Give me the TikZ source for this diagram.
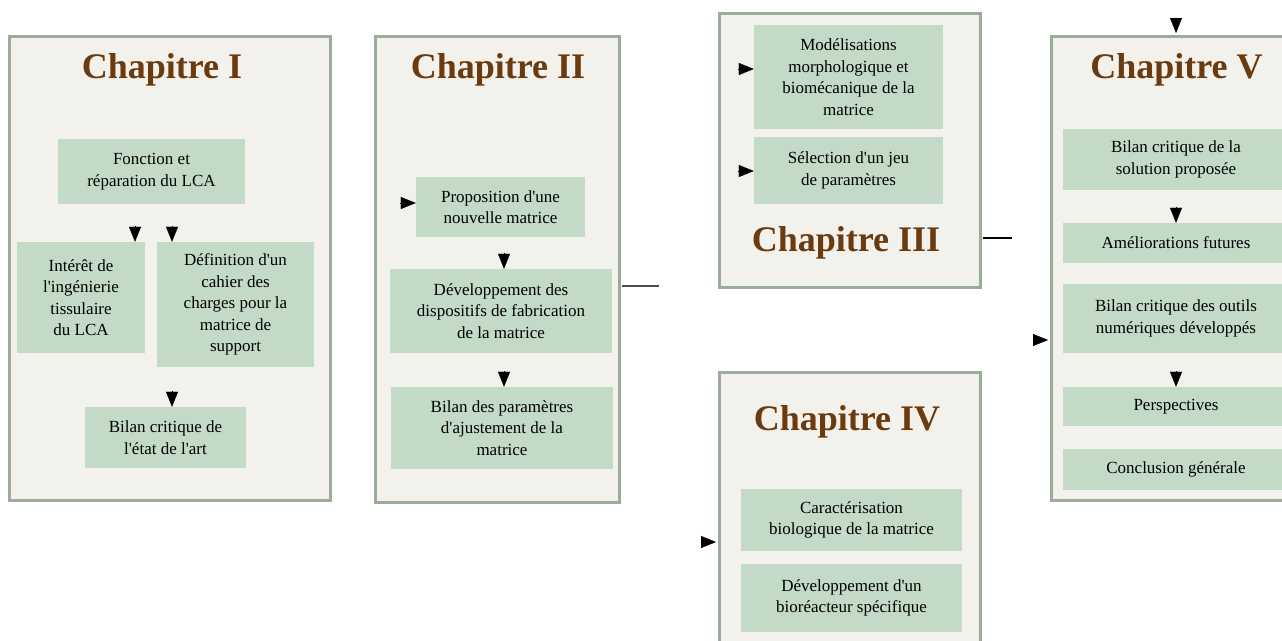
\documentclass[tikz,border=0pt]{standalone}
\usepackage{fontspec}
\setmainfont{Liberation Serif}
\usetikzlibrary{arrows.meta,calc}
\definecolor{framefill}{HTML}{F2F1EC}
\definecolor{framedraw}{HTML}{9BAC9C}
\definecolor{boxgreen}{HTML}{C3DAC7}
\definecolor{titlebrown}{HTML}{6B3A0F}
\newcommand{\ap}{\textquotesingle}
\begin{document}
\begin{tikzpicture}[x=1pt,y=-1pt,
  frame/.style={draw=framedraw, fill=framefill, line width=3pt, inner sep=0pt},
  box/.style={fill=boxgreen, draw=none, inner sep=0pt, align=center,
    font=\fontsize{17}{21.5}\selectfont},
  chtitle/.style={text=titlebrown, font=\fontsize{36}{40}\selectfont\bfseries, inner sep=0pt},
  tip/.style={-{Triangle[length=15pt,width=12pt]}, line width=0.3pt, black},
  stub/.style={line width=1.5pt, draw=black!70}]
\useasboundingbox (0,0) rectangle (1282,640);
\fill[white] (0,0) rectangle (1282,640);
\clip (0,0) rectangle (1282,640);

% Chapitre I
\node[frame, minimum width=321pt, minimum height=464pt] (ch1) at (169.5,268) {};
\node[chtitle] (t1) at (162,70) {Chapitre I};
\node[box, minimum width=187pt, minimum height=65pt] (f1) at (151.5,171.5) {Fonction et\\réparation du LCA};
\node[box, minimum width=128pt, minimum height=111pt] (f2) at (81,297.5) {Intérêt de\\l\ap ingénierie\\tissulaire\\du LCA};
\node[box, minimum width=157pt, minimum height=125pt] (f3) at (235.5,304.5) {Définition d\ap un\\cahier des\\charges pour la\\matrice de\\support};
\node[box, minimum width=161pt, minimum height=61pt] (f4) at (165.5,437.5) {Bilan critique de\\l\ap état de l\ap art};

% Chapitre II
\node[frame, minimum width=244pt, minimum height=466pt] (ch2) at (497,269) {};
\node[chtitle] (t2) at (498,70) {Chapitre II};
\node[box, minimum width=169pt, minimum height=60pt] (p1) at (500.5,207) {Proposition d\ap une\\nouvelle matrice};
\node[box, minimum width=222pt, minimum height=84pt] (p2) at (501,311) {Développement des\\dispositifs de fabrication\\de la matrice};
\node[box, minimum width=222pt, minimum height=82pt] (p3) at (502,428) {Bilan des paramètres\\d\ap ajustement de la\\matrice};

% Chapitre III
\node[frame, minimum width=261pt, minimum height=274pt] (ch3) at (849.5,150) {};
\node[box, minimum width=189pt, minimum height=104pt] (m1) at (848.5,77) {Modélisations\\morphologique et\\biomécanique de la\\matrice};
\node[box, minimum width=189pt, minimum height=67pt] (m2) at (848.5,170.5) {Sélection d\ap un jeu\\de paramètres};
\node[chtitle] (t3) at (846,243) {Chapitre III};

% Chapitre IV
\node[frame, minimum width=261pt, minimum height=288pt] (ch4) at (849.5,516) {};
\node[chtitle] (t4) at (847,422) {Chapitre IV};
\node[box, minimum width=221pt, minimum height=62pt] (c1) at (851.5,520) {Caractérisation\\biologique de la matrice};
\node[box, minimum width=221pt, minimum height=68pt] (c2) at (851.5,598) {Développement d\ap un\\bioréacteur spécifique};

% Chapitre V
\node[frame, minimum width=250pt, minimum height=464pt] (ch5) at (1176,268) {};
\node[chtitle] (t5) at (1176.5,70) {Chapitre V};
\node[box, minimum width=226pt, minimum height=61pt] (v1) at (1176,159.5) {Bilan critique de la\\solution proposée};
\node[box, minimum width=226pt, minimum height=40pt] (v2) at (1176,243) {Améliorations futures};
\node[box, minimum width=226pt, minimum height=69pt] (v3) at (1176,318.5) {Bilan critique des outils\\numériques développés};
\node[box, minimum width=226pt, minimum height=39pt] (v4) at (1176,406.5) {Perspectives};
\node[box, minimum width=226pt, minimum height=41pt] (v5) at (1176,469.5) {Conclusion générale};

% free ends of stubs
\coordinate (s2) at (659,286);
\coordinate (s3) at (1012,238);

% arrowheads (Chapitre I)
\draw[tip] ($(f2.north)+(54,-15.5)$) -- ($(f2.north)+(54,0)$);
\draw[tip] ($(f3.north)+(-63.5,-15.5)$) -- ($(f3.north)+(-63.5,0)$);
\draw[tip] ($(f4.north)+(6.5,-15.5)$) -- ($(f4.north)+(6.5,0)$);
% Chapitre II
\draw[tip] ($(p1.west)+(-15.5,-4)$) -- ($(p1.west)+(0,-4)$);
\draw[tip] ($(p2.north)+(3,-15.5)$) -- ($(p2.north)+(3,0)$);
\draw[tip] ($(p3.north)+(2,-15.5)$) -- ($(p3.north)+(2,0)$);
\draw[stub] ($(ch2.east|-s2)+(1.5,0)$) -- (s2);
% Chapitre III
\draw[tip] ($(m1.west)+(-15.5,-8)$) -- ($(m1.west)+(0,-8)$);
\draw[tip] ($(m2.west)+(-15.5,0.5)$) -- ($(m2.west)+(0,0.5)$);
\draw[stub, line width=1.3pt, draw=black] ($(ch3.east|-s3)+(1.5,0)$) -- (s3);
% Chapitre IV
\draw[tip] ($(ch4.west)+(-17,26)$) -- ($(ch4.west)+(-1.5,26)$);
% Chapitre V
\draw[tip] ($(ch5.north)+(0,-17)$) -- ($(ch5.north)+(0,-1.5)$);
\draw[tip] ($(ch5.west)+(-17,72)$) -- ($(ch5.west)+(-1.5,72)$);
\draw[tip] ($(v2.north)+(0,-15.5)$) -- (v2.north);
\draw[tip] ($(v4.north)+(0,-15.5)$) -- (v4.north);
\end{tikzpicture}
\end{document}
